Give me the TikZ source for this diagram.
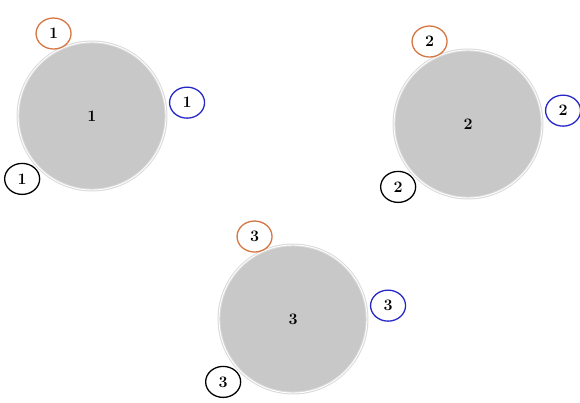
\documentclass[tikz,border=0pt]{standalone}
\usepackage{tikz}
\usetikzlibrary{shapes.geometric}
\definecolor{ringorange}{RGB}{214,118,66}
\definecolor{ringblue}{RGB}{40,40,200}
\definecolor{discgray}{RGB}{200,200,200}

\begin{document}
\begin{tikzpicture}[
  x=1pt, y=1pt,
  disc/.style={circle, fill=discgray, draw=discgray!70, double=white, double distance=0.9pt, line width=1pt, minimum size=148pt, inner sep=0pt, font=\fontsize{16}{18}\selectfont\bfseries},
  tag/.style={ellipse, draw, line width=1.3pt, fill=white, minimum width=35pt, minimum height=31pt, inner sep=0pt, font=\fontsize{16}{18}\selectfont\bfseries}
]
\useasboundingbox (0,0) rectangle (580,402);

% Discs
\node[disc] (c1) at (92,286) {1};
\node[disc] (c2) at (468,278) {2};
\node[disc] (c3) at (293,83) {3};

% Tags around each disc
\foreach \i in {1,2,3} {
  \node[tag, draw=ringorange] (o\i) at ([shift={(115:91)}]c\i.center) {\i};
  \node[tag, draw=ringblue] (b\i) at ([shift={(8:96)}]c\i.center) {\i};
  \node[tag, draw=black] (k\i) at ([shift={(222:94)}]c\i.center) {\i};
}

\end{tikzpicture}
\end{document}
